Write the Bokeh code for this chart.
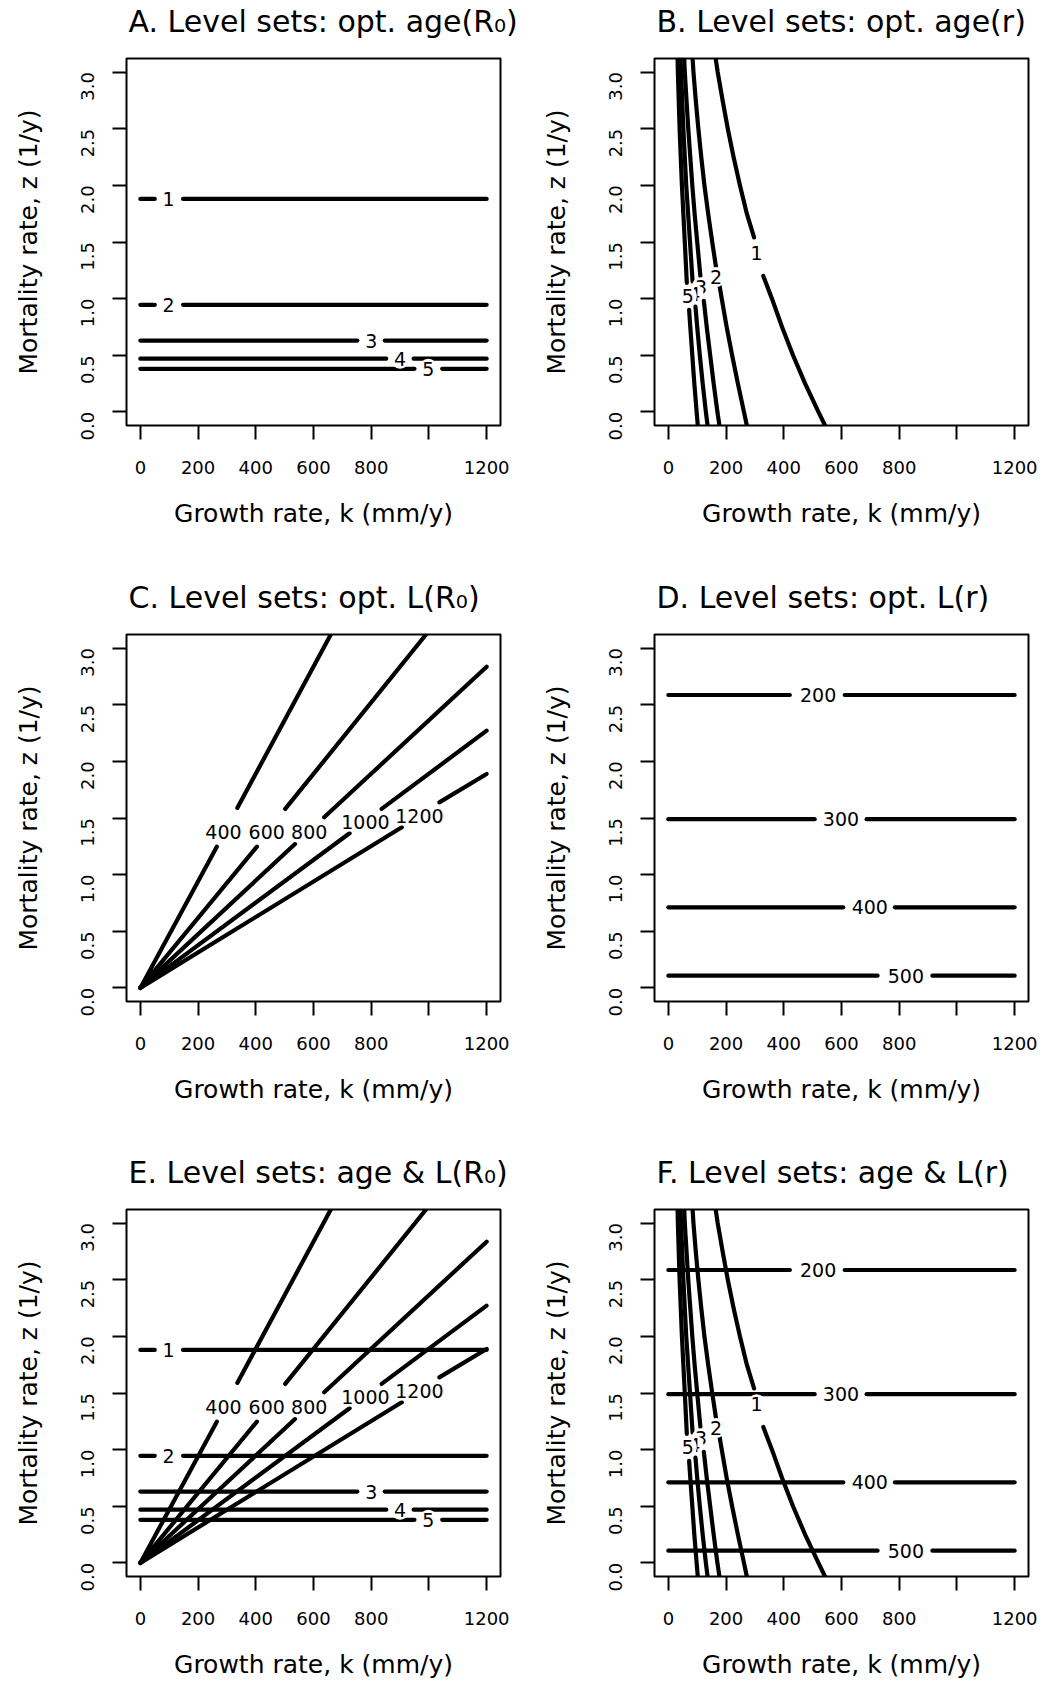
import math
from bokeh.plotting import figure
from bokeh.layouts import gridplot
from bokeh.models import Range1d, FixedTicker, Title
from bokeh.core.properties import value
from bokeh.embed import file_html
from bokeh.resources import INLINE

# ---------------- data ----------------
K_TICKS = [0, 200, 400, 600, 800, 1000, 1200]
K_TICK_LABELS = ["0", "200", "400", "600", "800", "", "1200"]
Z_TICKS = [0.0, 0.5, 1.0, 1.5, 2.0, 2.5, 3.0]
Z_TICK_LABELS = ["0.0", "0.5", "1.0", "1.5", "2.0", "2.5", "3.0"]

TITLES = [
    "A. Level sets: opt. age(R\u2080)",
    "B. Level sets: opt. age(r)",
    "C. Level sets: opt. L(R\u2080)",
    "D. Level sets: opt. L(r)",
    "E. Level sets: age & L(R\u2080)",
    "F. Level sets: age & L(r)",
]
X_LABEL = "Growth rate, k (mm/y)"
Y_LABEL = "Mortality rate, z (1/y)"

# optimal age under R0 : horizontal level lines (z), with gaps for labels
AGE_R0_TEXT = ["1", "2", "3", "4", "5"]
AGE_R0_Z = [1.88, 0.945, 0.63, 0.47, 0.38]
AGE_R0_SEG_K = [
    [[0, 50], [148, 1200]],
    [[0, 50], [148, 1200]],
    [[0, 752], [847, 1200]],
    [[0, 852], [947, 1200]],
    [[0, 950], [1046, 1200]],
]
AGE_R0_LABEL_K = [98, 98, 800, 900, 998]

# optimal length under R0 : lines from the origin
LEN_R0_TEXT = ["400", "600", "800", "1000", "1200"]
LEN_R0_SEG_K = [
    [[0, 265], [336, 660]],
    [[0, 404], [502, 990]],
    [[0, 536], [637, 1200]],
    [[0, 725], [836, 1200]],
    [[0, 906], [1036, 1200]],
]
LEN_R0_SEG_Z = [
    [[0, 1.247], [1.589, 3.12]],
    [[0, 1.247], [1.58, 3.12]],
    [[0, 1.271], [1.506, 2.836]],
    [[0, 1.365], [1.58, 2.271]],
    [[0, 1.418], [1.638, 1.889]],
]
LEN_R0_LABEL_K = [288, 438, 585, 780, 967]
LEN_R0_LABEL_Z = [1.373, 1.373, 1.373, 1.468, 1.521]

# optimal age under r : curves (k as a function of z)
AGE_R_TEXT = ["1", "2", "3", "4", "5"]
AGE_R_SEG_Z = [
    [[-0.12, 0.0, 0.25, 0.5, 0.75, 1.0, 1.2], [1.54, 1.75, 2.0, 2.25, 2.5, 2.75, 3.0, 3.12]],
    [[-0.12, 0.0, 0.25, 0.5, 0.75, 1.0, 1.12], [1.28, 1.5, 1.75, 2.0, 2.25, 2.5, 2.75, 3.0, 3.12]],
    [[-0.12, 0.0, 0.25, 0.5, 0.75, 0.98], [1.2, 1.5, 1.75, 2.0, 2.25, 2.5, 2.75, 3.0, 3.12]],
    [[-0.12, 0.0, 0.25, 0.5, 0.75, 0.93], [1.15, 1.5, 2.0, 2.5, 3.0, 3.12]],
    [[-0.12, 0.0, 0.25, 0.5, 0.75, 0.9], [1.14, 1.5, 2.0, 2.5, 3.0, 3.12]],
]
AGE_R_SEG_K = [
    [[543, 520, 474, 432, 394, 359, 329], [297, 272, 248, 226, 206, 188, 171, 164]],
    [[272, 262, 241, 221, 202, 185, 177], [165, 152, 138, 125, 114, 104, 95, 87, 84]],
    [[177, 170, 157, 145, 133, 123], [111, 100, 91, 83, 76, 69, 63, 57, 55]],
    [[136, 130, 119, 109, 100, 94], [84, 75, 62, 52, 44, 42]],
    [[102, 98, 90, 83, 76, 72], [64, 57, 47, 39, 33, 32]],
]
AGE_R_LABEL_K = [306, 165, 113, 90, 67]
AGE_R_LABEL_Z = [1.40, 1.19, 1.10, 1.04, 1.02]

# optimal length under r : horizontal level lines
LEN_R_TEXT = ["200", "300", "400", "500"]
LEN_R_Z = [2.586, 1.49, 0.711, 0.108]
LEN_R_SEG_K = [
    [[0, 421], [611, 1200]],
    [[0, 507], [687, 1200]],
    [[0, 606], [785, 1200]],
    [[0, 725], [915, 1200]],
]
LEN_R_LABEL_K = [519, 598, 698, 823]

# ---------------- styling ----------------
FONT = "DejaVu Sans"
LINE = dict(line_color="black", line_width=4.2, line_cap="round", line_join="round")
X_START, X_END = -48, 1248
Y_START, Y_END = -0.12, 3.12
FRAME_H = 367
ROW_H = [576, 575, 530]
TOP = 58
COL_W = [536, 512]
COL_LEFT = [126, 118]
COL_RIGHT = [36, 20]


def make_fig(idx):
    row, col = divmod(idx, 2)
    H, W = ROW_H[row], COL_W[col]
    p = figure(width=W, height=H, title=None,
               x_range=Range1d(X_START, X_END), y_range=Range1d(Y_START, Y_END),
               output_backend="svg", toolbar_location=None,
               min_border_left=COL_LEFT[col], min_border_right=COL_RIGHT[col],
               min_border_top=TOP,
               min_border_bottom=H - TOP - FRAME_H,
               background_fill_color="white", border_fill_color="white")
    # a thin spacer panel between the frame and the title lifts the title
    p.add_layout(Title(text=" ", text_font_size="1px", text_color="white",
                       standoff=16), "above")
    p.add_layout(Title(text=TITLES[idx], text_font=FONT, text_font_size="30px",
                       text_font_style="normal", text_color="black",
                       align="left", offset=2, standoff=2), "above")
    p.grid.visible = False
    p.outline_line_color = "black"
    p.outline_line_width = 2
    p.outline_line_alpha = 1.0

    p.xaxis.ticker = FixedTicker(ticks=K_TICKS)
    p.xaxis.major_label_overrides = {t: s for t, s in zip(K_TICKS, K_TICK_LABELS)}
    p.yaxis.ticker = FixedTicker(ticks=Z_TICKS)
    p.yaxis.major_label_overrides = {t: s for t, s in zip(Z_TICKS, Z_TICK_LABELS)}
    p.xaxis.axis_label = X_LABEL
    p.yaxis.axis_label = Y_LABEL
    for ax in (p.xaxis, p.yaxis):
        ax.axis_line_color = None
        ax.major_tick_line_color = "black"
        ax.major_tick_line_width = 2
        ax.major_tick_out = 14
        ax.major_tick_in = 0
        ax.minor_tick_line_color = None
        ax.major_label_text_font = FONT
        ax.major_label_text_font_size = "18px"
        ax.major_label_text_color = "black"
        ax.axis_label_text_font = FONT
        ax.axis_label_text_font_size = "25px"
        ax.axis_label_text_font_style = "normal"
        ax.axis_label_text_color = "black"
    p.xaxis.major_label_standoff = 21
    p.xaxis.axis_label_standoff = 22
    p.yaxis.major_label_orientation = math.pi / 2
    p.yaxis.major_label_standoff = 25
    p.yaxis.axis_label_standoff = 29
    return p


def labels(p, ks, zs, texts):
    p.text(x=ks, y=zs, text=texts,
           text_font=value(FONT), text_font_size="19px",
           text_align="center", text_baseline="middle", text_color="black",
           background_fill_color="white", padding=3, border_radius=9)


def lines_age_r0(p):
    xs, ys = [], []
    for segs, z in zip(AGE_R0_SEG_K, AGE_R0_Z):
        for a, b in segs:
            xs.append([a, b])
            ys.append([z, z])
    p.multi_line(xs, ys, **LINE)


def labels_age_r0(p):
    # drawn from level 5 down to 1
    labels(p, AGE_R0_LABEL_K[::-1], AGE_R0_Z[::-1], AGE_R0_TEXT[::-1])


def lines_len_r0(p):
    xs, ys = [], []
    for ks, zs in zip(LEN_R0_SEG_K, LEN_R0_SEG_Z):
        for k, z in zip(ks, zs):
            xs.append(k)
            ys.append(z)
    p.multi_line(xs, ys, **LINE)


def labels_len_r0(p):
    labels(p, LEN_R0_LABEL_K, LEN_R0_LABEL_Z, LEN_R0_TEXT)


def lines_age_r(p):
    xs, ys = [], []
    for ks, zs in zip(AGE_R_SEG_K, AGE_R_SEG_Z):
        for k, z in zip(ks, zs):
            xs.append(k)
            ys.append(z)
    p.multi_line(xs, ys, **LINE)


def labels_age_r(p):
    labels(p, AGE_R_LABEL_K, AGE_R_LABEL_Z, AGE_R_TEXT)


def lines_len_r(p):
    xs, ys = [], []
    for segs, z in zip(LEN_R_SEG_K, LEN_R_Z):
        for a, b in segs:
            xs.append([a, b])
            ys.append([z, z])
    p.multi_line(xs, ys, **LINE)


def labels_len_r(p):
    labels(p, LEN_R_LABEL_K, LEN_R_Z, LEN_R_TEXT)


figs = [make_fig(i) for i in range(6)]
pA, pB, pC, pD, pE, pF = figs

lines_age_r0(pA); labels_age_r0(pA)
lines_age_r(pB); labels_age_r(pB)
lines_len_r0(pC); labels_len_r0(pC)
lines_len_r(pD); labels_len_r(pD)
lines_age_r0(pE); lines_len_r0(pE); labels_age_r0(pE); labels_len_r0(pE)
lines_age_r(pF); lines_len_r(pF); labels_len_r(pF); labels_age_r(pF)

grid = gridplot([[pA, pB], [pC, pD], [pE, pF]], toolbar_location=None)

with open("out.html", "w") as f:
    f.write(file_html(grid, INLINE))
